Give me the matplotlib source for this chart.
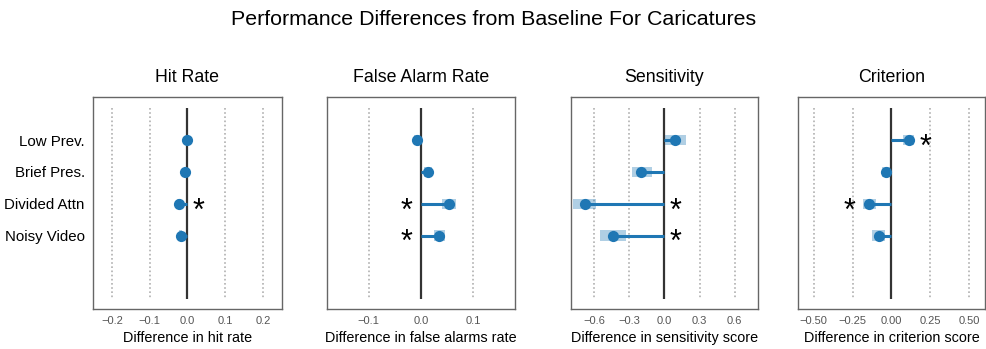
import numpy as np
import matplotlib
matplotlib.use('Agg')
import matplotlib.pyplot as plt

plt.rcParams['font.family'] = ['Liberation Sans', 'DejaVu Sans']

# rows, top to bottom
categories = ['Low Prev.', 'Brief Pres.', 'Divided Attn', 'Noisy Video']

# difference from baseline, with interval (lo, hi) for the shaded box
hit_diff = [0.0, -0.006, -0.023, -0.018]
hit_lo = [-0.004, -0.010, -0.028, -0.022]
hit_hi = [0.004, -0.002, -0.018, -0.014]

fa_diff = [-0.008, 0.013, 0.054, 0.034]
fa_lo = [-0.014, 0.006, 0.041, 0.024]
fa_hi = [-0.002, 0.021, 0.067, 0.046]

sens_diff = [0.09, -0.20, -0.68, -0.44]
sens_lo = [0.006, -0.28, -0.78, -0.55]
sens_hi = [0.187, -0.11, -0.59, -0.33]

crit_diff = [0.11, -0.035, -0.146, -0.083]
crit_lo = [0.075, -0.062, -0.186, -0.126]
crit_hi = [0.145, -0.009, -0.100, -0.041]

# significance stars: (row, x)
hit_stars = [(2, 0.03)]
fa_stars = [(2, -0.028), (3, -0.028)]
sens_stars = [(2, 0.095), (3, 0.095)]
crit_stars = [(0, 0.22), (2, -0.267)]

titles = ['Hit Rate', 'False Alarm Rate', 'Sensitivity', 'Criterion']
xlabels = ['Difference in hit rate', 'Difference in false alarms rate',
           'Difference in sensitivity score', 'Difference in criterion score']
ticks = [[-0.2, -0.1, 0.0, 0.1, 0.2], [-0.1, 0.0, 0.1],
         [-0.6, -0.3, 0.0, 0.3, 0.6], [-0.5, -0.25, 0.0, 0.25, 0.5]]
limits = [0.25, 0.18, 0.8, 0.6]

panels = [(hit_diff, hit_lo, hit_hi, hit_stars),
          (fa_diff, fa_lo, fa_hi, fa_stars),
          (sens_diff, sens_lo, sens_hi, sens_stars),
          (crit_diff, crit_lo, crit_hi, crit_stars)]

fig = plt.figure(figsize=(9.87, 3.49), dpi=100)
lefts = [93, 327, 571, 798]
widths = [189, 188, 187, 187]
blue = '#1f77b4'

for k, (diff, lo, hi, stars) in enumerate(panels):
    ax = fig.add_axes([lefts[k] / 987, 1 - 309 / 349, widths[k] / 987, 212 / 349])
    y = np.arange(len(categories))
    # grid lines
    for t in ticks[k]:
        if t != 0:
            ax.vlines(t, -1, 5, colors='#b0b0b0', linestyles=(0, (1, 1.5)), lw=1.2, zorder=1)
    ax.vlines(0, -1, 5, colors='#333333', lw=1.6, zorder=2)
    lo = np.array(lo); hi = np.array(hi); diff = np.array(diff)
    ax.barh(y, hi - lo, left=lo, height=0.33, color=blue, alpha=0.35, lw=0, zorder=3)
    for i in y:
        ax.plot([0, diff[i]], [i, i], color=blue, lw=2.2, solid_capstyle='butt', zorder=4)
    ax.scatter(diff, y, s=65, color=blue, zorder=5, lw=0)
    for r, sx in stars:
        ax.text(sx, r + 0.24, '*', fontsize=22, ha='center', va='center', color='black')

    ax.set_xlim(-limits[k], limits[k])
    ax.set_ylim(5.3, -1.35)
    ax.set_xticks(ticks[k])
    ax.tick_params(axis='x', length=0, pad=5, labelsize=8, labelcolor='#555555')
    ax.tick_params(axis='y', length=0, pad=6, labelsize=10.8)
    if k == 0:
        ax.set_yticks(y)
        ax.set_yticklabels(categories)
    else:
        ax.set_yticks([])
    for s in ax.spines.values():
        s.set_color('#666666')
        s.set_linewidth(1.0)
    ax.set_title(titles[k], fontsize=12.8, pad=11)
    ax.set_xlabel(xlabels[k], fontsize=10.4, labelpad=3.5)

fig.suptitle('Performance Differences from Baseline For Caricatures', fontsize=15.4, y=0.97)
fig.savefig('out.png', dpi=100)
